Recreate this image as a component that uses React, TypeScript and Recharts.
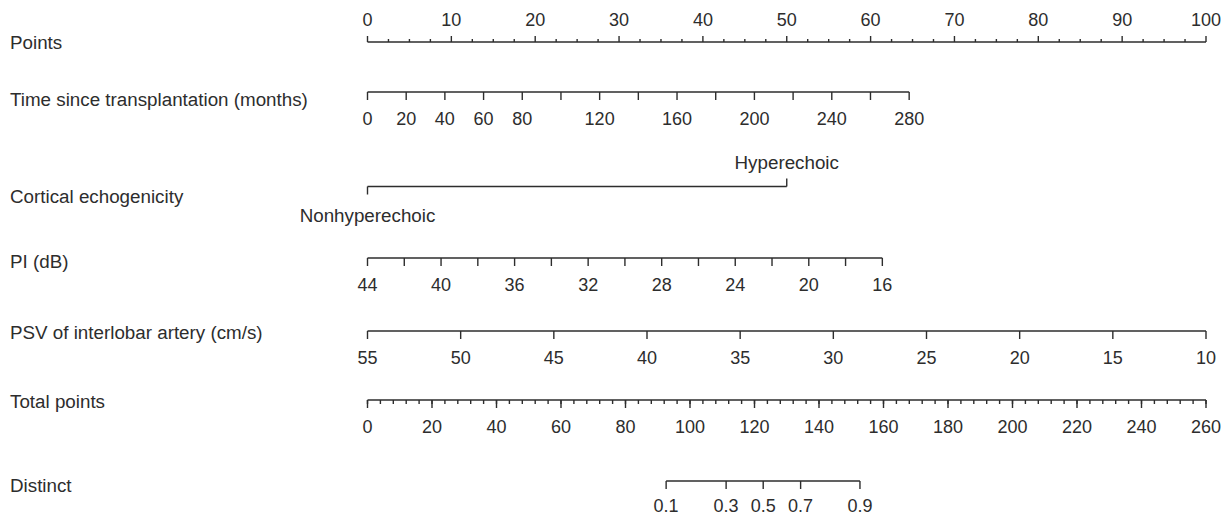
import React from 'react';
import { ComposedChart, Line, Scatter, XAxis, YAxis } from 'recharts';

// ---- data ----
const pointsLabels = [0, 10, 20, 30, 40, 50, 60, 70, 80, 90, 100];
const pointsMinorStep = 2.5;

const timeTicks = [0, 20, 40, 60, 80, 100, 120, 140, 160, 180, 200, 220, 240, 260, 280];
const timeLabels = [0, 20, 40, 60, 80, 120, 160, 200, 240, 280];
const timePointsAt280 = 64.6;

const corticalLevels = ['Nonhyperechoic', 'Hyperechoic'];
const corticalPoints = [0, 50];

const piTicks = [44, 42, 40, 38, 36, 34, 32, 30, 28, 26, 24, 22, 20, 18, 16];
const piLabels = [44, 40, 36, 32, 28, 24, 20, 16];
const piPointsAt16 = 61.4;

const psvTicks = [55, 50, 45, 40, 35, 30, 25, 20, 15, 10];
const psvPointsAt10 = 100;

const totalLabels = [0, 20, 40, 60, 80, 100, 120, 140, 160, 180, 200, 220, 240, 260];
const totalMinorStep = 4;

const distinctProbs = [0.1, 0.3, 0.5, 0.7, 0.9];
const distinctTotals = [92.6, 111.2, 122.7, 134.3, 152.7];

const rowTitles = [
  'Points',
  'Time since transplantation (months)',
  'Cortical echogenicity',
  'PI (dB)',
  'PSV of interlobar artery (cm/s)',
  'Total points',
  'Distinct',
];

// ---- layout (pixels) ----
const W = 1231;
const H = 519;
const LEFT = 367.5;
const RIGHT = 1206;
const INK = '#2d2d2d';
const FONT = '"Liberation Sans", Arial, Helvetica, sans-serif';
const FS_NUM = 18;
const FS_TXT = 18.8;

const rowLine = [42, 92, 186.5, 258, 331, 400, 481];
const rowTitleY = [42, 99, 196, 261, 332, 401, 485];

type Tick = { x: number; y: number; len: number; label?: string; dy?: number; text?: boolean };

const fmt = (v: number) => String(v);

// points row: ticks upward, labels above
const pointsMarks: Tick[] = [];
for (let v = 0; v <= 100 + 1e-9; v += pointsMinorStep) {
  const major = pointsLabels.includes(v);
  pointsMarks.push({ x: v, y: rowLine[0], len: major ? -6 : -3, label: major ? fmt(v) : undefined, dy: -16 });
}

const timeMarks: Tick[] = timeTicks.map((v) => ({
  x: (v * timePointsAt280) / 280,
  y: rowLine[1],
  len: 8,
  label: timeLabels.includes(v) ? fmt(v) : undefined,
  dy: 33,
}));

const corticalMarks: Tick[] = corticalLevels.map((lvl, i) => ({
  x: corticalPoints[i],
  y: rowLine[2],
  len: i === 0 ? 8 : -8,
  label: lvl,
  dy: i === 0 ? 35 : -18,
  text: true,
}));

const piMarks: Tick[] = piTicks.map((v) => ({
  x: ((44 - v) * piPointsAt16) / (44 - 16),
  y: rowLine[3],
  len: 8,
  label: piLabels.includes(v) ? fmt(v) : undefined,
  dy: 33,
}));

const psvMarks: Tick[] = psvTicks.map((v) => ({
  x: ((55 - v) * psvPointsAt10) / (55 - 10),
  y: rowLine[4],
  len: 8,
  label: fmt(v),
  dy: 33,
}));

const totalMarks: Tick[] = [];
for (let v = 0; v <= 260; v += totalMinorStep) {
  totalMarks.push({ x: (v * 100) / 260, y: rowLine[5], len: 4 });
}
totalLabels.forEach((v) =>
  totalMarks.push({ x: (v * 100) / 260, y: rowLine[5], len: 8, label: fmt(v), dy: 33 })
);

const distinctMarks: Tick[] = distinctProbs.map((p, i) => ({
  x: (distinctTotals[i] * 100) / 260,
  y: rowLine[6],
  len: 8,
  label: fmt(p),
  dy: 31,
}));

const allRows = [pointsMarks, timeMarks, corticalMarks, piMarks, psvMarks, totalMarks, distinctMarks];

const titleData = rowTitles.map((t, i) => ({ x: 0, y: rowTitleY[i], text: t }));

const TickShape = (props: any) => {
  const { cx, cy, payload } = props;
  if (cx == null || cy == null) return null;
  return (
    <g>
      <line x1={cx} x2={cx} y1={cy} y2={cy + payload.len} stroke={INK} strokeWidth={1.4} />
      {payload.label != null && (
        <text
          x={cx}
          y={cy + payload.dy}
          textAnchor="middle"
          fill={INK}
          fontSize={payload.text ? FS_TXT : FS_NUM}
          fontFamily={FONT}
        >
          {payload.label}
        </text>
      )}
    </g>
  );
};

const TitleShape = (props: any) => {
  const { cy, payload } = props;
  if (cy == null) return null;
  return (
    <text x={10} y={cy + 6.5} fill={INK} fontSize={FS_TXT} fontFamily={FONT}>
      {payload.text}
    </text>
  );
};

export default function App() {
  return (
    <div style={{ width: W, height: H, background: '#fff' }}>
      <style>{'body{margin:0}'}</style>
      <ComposedChart width={W} height={H} margin={{ top: 0, right: W - RIGHT, bottom: 0, left: LEFT }}>
        <XAxis type="number" dataKey="x" domain={[0, 100]} hide />
        <YAxis type="number" dataKey="y" domain={[0, H]} reversed hide />
        {allRows.map((marks, i) => {
          const xs = marks.map((m) => m.x);
          const lineData = [
            { x: Math.min(...xs), y: rowLine[i] },
            { x: Math.max(...xs), y: rowLine[i] },
          ];
          return (
            <Line
              key={'l' + i}
              data={lineData}
              dataKey="y"
              type="linear"
              stroke={INK}
              strokeWidth={1.4}
              dot={false}
              activeDot={false}
              isAnimationActive={false}
            />
          );
        })}
        {allRows.map((marks, i) => (
          <Scatter key={'t' + i} data={marks} shape={TickShape} isAnimationActive={false} />
        ))}
        <Scatter data={titleData} shape={TitleShape} isAnimationActive={false} />
      </ComposedChart>
    </div>
  );
}
